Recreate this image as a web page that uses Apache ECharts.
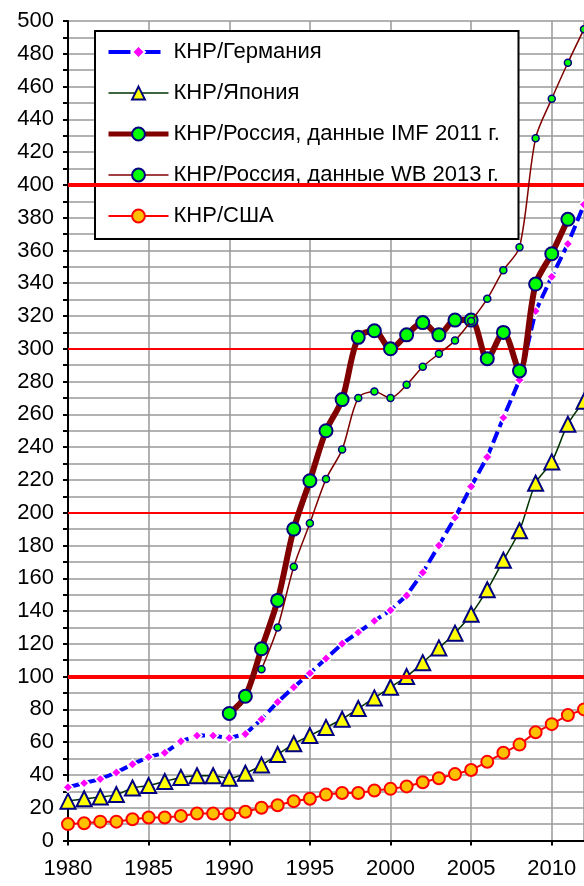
<!DOCTYPE html>
<html>
<head>
<meta charset="utf-8">
<script src="https://cdn.jsdelivr.net/npm/echarts@6/dist/echarts.min.js"></script>
<style>html,body{margin:0;padding:0;background:#fff}#c{width:584px;height:886px}</style>
</head>
<body>
<div id="c"></div>
<script>
var years = [1980,1981,1982,1983,1984,1985,1986,1987,1988,1989,1990,1991,1992,1993,1994,1995,1996,1997,1998,1999,2000,2001,2002,2003,2004,2005,2006,2007,2008,2009,2010,2011,2012];
var germany = [32.5,35,37.5,41.5,46.5,51,53.5,60.5,64,64,62.5,65,74,84.5,93.5,102,111,120,127,134,140.5,149.5,163.5,180,197,216,234,258,281,323,344,364,388];
var japan = [24,25.5,26.5,28,32,33.5,36,38.5,39.5,39.5,38,41,46,52.5,59,64,69,74,80.5,87,93.5,100,108.5,117.5,126.5,138,153,171,189,218,231,254,268];
var russiaIMF = [null,null,null,null,null,null,null,null,null,null,77.5,88,117,146.5,190,219.5,250,269,307,311,300,308.5,316,308.5,317.5,317.5,294,310,286.5,339.5,358,379,null];
var russiaWB = [null,null,null,null,null,null,null,null,null,null,null,null,104.5,130,167,193.5,220.5,238.5,270,274,270,278,289,297,305,317,330.5,348,362,428.5,452.5,474.5,495];
var usa = [10,10.5,11.5,11.5,13,14,14,15,16.5,16.5,16,17.5,20,21.5,24,25.5,28,29,29,30.5,31.5,33,35.5,38,40.5,43,48,53.5,58.5,66,71,76.5,80];
var names = ['КНР/Германия','КНР/Япония','КНР/Россия, данные IMF 2011 г.','КНР/Россия, данные WB 2013 г.','КНР/США'];
var refLines = [100,200,300,400];
var refWidths = [4,1.8,2,4];

function pairs(vals){
  var out=[];
  for(var i=0;i<years.length;i++){ if(vals[i]!==null) out.push([years[i], vals[i]]); }
  return out;
}
var FONT = 'Liberation Sans, Arial, sans-serif';
var chart = echarts.init(document.getElementById('c'), null, {renderer:'canvas'});
chart.setOption({
  animation:false,
  backgroundColor:'#fff',
  grid:{left:68, right:0, top:21, bottom:45.5, containLabel:false},
  xAxis:{
    type:'value', min:1980, max:2012, interval:5,
    axisLine:{show:true, lineStyle:{color:'#000', width:2}},
    axisTick:{show:true, length:5, lineStyle:{color:'#000', width:2}},
    axisLabel:{color:'#000', fontSize:22, fontFamily:FONT, margin:17, showMaxLabel:false,
      formatter:function(v){ return v%5===0 ? String(v) : ''; }},
    splitLine:{show:true, lineStyle:{color:'#999', width:1.5}}
  },
  yAxis:{
    type:'value', min:0, max:500, interval:20,
    axisLine:{show:true, lineStyle:{color:'#000', width:2}},
    axisTick:{show:true, length:5, lineStyle:{color:'#000', width:2}},
    minorTick:{show:true, splitNumber:2, length:5, lineStyle:{color:'#000', width:2}},
    minorSplitLine:{show:true, lineStyle:{color:'#999', width:1.5}},
    axisLabel:{color:'#000', fontSize:22, fontFamily:FONT, margin:14},
    splitLine:{show:true, lineStyle:{color:'#999', width:1.5}}
  },
  legend:{
    data:[
      {name:names[0], lineStyle:{width:4, type:[22,8]}},
      {name:names[1], lineStyle:{width:1.5}},
      {name:names[2], lineStyle:{width:5}},
      {name:names[3], lineStyle:{width:1.5}},
      {name:names[4], lineStyle:{width:2}}
    ],
    orient:'vertical', left:95, top:31,
    backgroundColor:'#fff', borderColor:'#000', borderWidth:2, borderRadius:0,
    padding:[8,7,10,11], itemGap:15, itemWidth:60, itemHeight:16,
    textStyle:{color:'#000', fontSize:22, fontFamily:FONT, lineHeight:26, width:338}
  },
  series:[
    {
      name:'ref', type:'line', data:[], silent:true, z:1,
      markLine:{silent:true, symbol:'none', label:{show:false},
        data: refLines.map(function(v,i){ return {yAxis:v, lineStyle:{color:'#ff0000', width:refWidths[i], type:'solid'}}; })
      }
    },
    {
      name:names[4], type:'line', data:pairs(usa), z:3,
      symbol:'circle', symbolSize:12,
      lineStyle:{color:'#ff0000', width:2},
      itemStyle:{color:'#ffc000', borderColor:'#ff0000', borderWidth:2}
    },
    {
      name:names[1], type:'line', data:pairs(japan), z:4, smooth:0.3,
      symbol:'triangle', symbolSize:15,
      lineStyle:{color:'#003300', width:1.5},
      itemStyle:{color:'#ffff00', borderColor:'#000080', borderWidth:2}
    },
    {
      name:names[0], type:'line', data:pairs(germany), z:5,
      symbol:'diamond', symbolSize:10,
      lineStyle:{color:'#0000ff', width:4, type:[12,5]},
      itemStyle:{color:'#ff00ff', borderColor:'#ffffff', borderWidth:1.5}
    },
    {
      name:names[2], type:'line', data:pairs(russiaIMF), z:6, smooth:0.3,
      symbol:'circle', symbolSize:13,
      lineStyle:{color:'#800000', width:6},
      itemStyle:{color:'#00ff00', borderColor:'#000080', borderWidth:2}
    },
    {
      name:names[3], type:'line', data:pairs(russiaWB), z:7, smooth:0.3,
      symbol:'circle', symbolSize:7,
      lineStyle:{color:'#800000', width:1.5},
      itemStyle:{color:'#00ff00', borderColor:'#000080', borderWidth:1.5}
    }
  ]
});
</script>
</body>
</html>
